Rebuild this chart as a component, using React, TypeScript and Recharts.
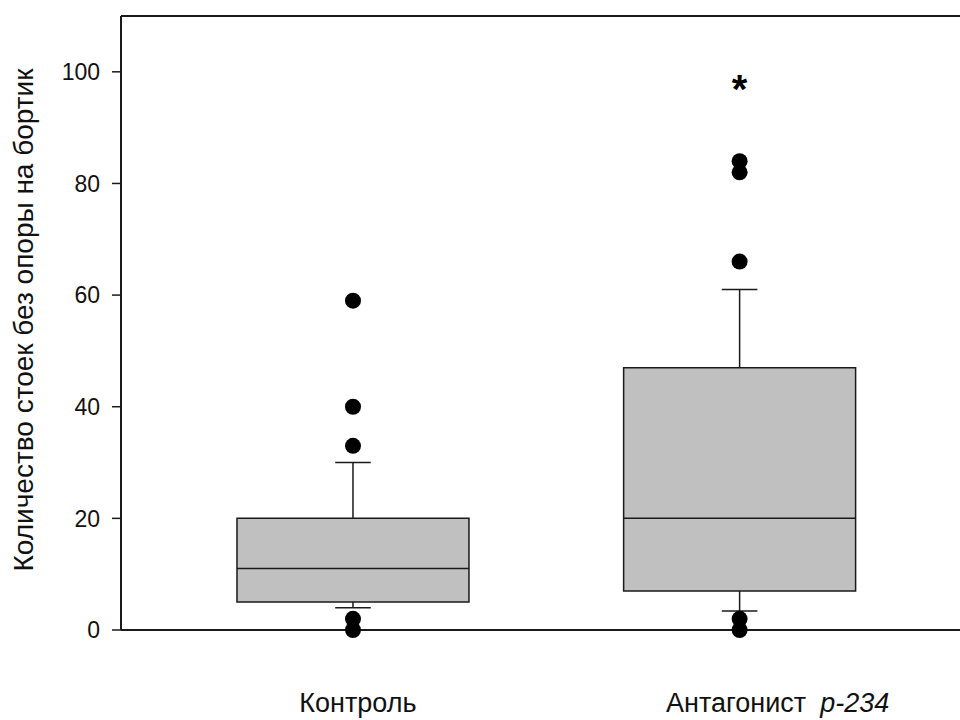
import {
  ComposedChart,
  Scatter,
  XAxis,
  YAxis,
  ReferenceArea,
  ReferenceLine,
  Label,
} from "recharts";

// groups along the x axis
const groupNames = ["Контроль", "Антагонист"];
const groupSuffix = ["", "p-234"];
const groupPos = [1, 2];

// box statistics
const q1 = [5, 7];
const median = [11, 20];
const q3 = [20, 47];
const whiskerLow = [4, 3.4];
const whiskerHigh = [30, 61];

// points outside the whiskers
const outliersControl = [59, 40, 33, 2, 0];
const outliersAntagonist = [84, 82, 66, 2, 0];

// significance mark above group 2
const starValue = [98.4];

const yTicks = [0, 20, 40, 60, 80, 100];

const BOX_HALF = 0.3;
const CAP_HALF = 0.046;
const INK = "#1a1a1a";

const outlierData = [
  ...outliersControl.map((v) => ({ x: groupPos[0], y: v })),
  ...outliersAntagonist.map((v) => ({ x: groupPos[1], y: v })),
];
const starData = starValue.map((v) => ({ x: groupPos[1], y: v }));

const XTick = (props: any) => {
  const { x, y, payload } = props;
  const i = groupPos.indexOf(payload.value);
  if (i < 0) return null;
  const shift = i === 0 ? 5 : 38;
  return (
    <text x={x + shift} y={y} dy={80} textAnchor="middle" fontSize={27} fill="#111">
      {groupNames[i]}
      {groupSuffix[i] ? (
        <tspan dx={14} fontStyle="italic">
          {groupSuffix[i]}
        </tspan>
      ) : null}
    </text>
  );
};

const YTitle = () => (
  <text
    x={33}
    y={320}
    textAnchor="middle"
    fontSize={28}
    fill="#111"
    transform="rotate(-90, 33, 320)"
  >
    Количество стоек без опоры на бортик
  </text>
);

const Star = (props: any) => {
  const { cx, cy } = props;
  return (
    <text x={cx} y={cy} dy={22} textAnchor="middle" fontSize={40} fontWeight="bold" fill="#000">
      *
    </text>
  );
};

export default function App() {
  return (
    <div
      style={{
        position: "absolute",
        left: 0,
        top: 0,
        width: 960,
        height: 720,
        background: "#fff",
        fontFamily: "'Liberation Sans', Arial, sans-serif",
      }}
    >
      <ComposedChart width={960} height={720} margin={{ top: 16, right: 0, bottom: 0, left: 0 }}>
        <XAxis
          type="number"
          dataKey="x"
          domain={[0.4, 2.57]}
          ticks={groupPos}
          allowDataOverflow
          height={90}
          tickLine={false}
          tickSize={0}
          axisLine={{ stroke: INK, strokeWidth: 2 }}
          tick={<XTick />}
        />
        <YAxis
          type="number"
          dataKey="y"
          domain={[0, 110]}
          ticks={yTicks}
          width={121}
          tickSize={9}
          tickMargin={12}
          axisLine={{ stroke: INK, strokeWidth: 2 }}
          tickLine={{ stroke: INK, strokeWidth: 1.5 }}
          tick={{ fontSize: 23, fill: "#111" }}
        >
          <Label content={<YTitle />} />
        </YAxis>

        <ReferenceLine y={110} stroke={INK} strokeWidth={2} />

        {groupPos.map((p, i) => (
          <ReferenceLine
            key={`wl${i}`}
            segment={[
              { x: p, y: whiskerLow[i] },
              { x: p, y: q1[i] },
            ]}
            stroke={INK}
            strokeWidth={1.5}
          />
        ))}
        {groupPos.map((p, i) => (
          <ReferenceLine
            key={`wh${i}`}
            segment={[
              { x: p, y: q3[i] },
              { x: p, y: whiskerHigh[i] },
            ]}
            stroke={INK}
            strokeWidth={1.5}
          />
        ))}
        {groupPos.map((p, i) => (
          <ReferenceLine
            key={`cl${i}`}
            segment={[
              { x: p - CAP_HALF, y: whiskerLow[i] },
              { x: p + CAP_HALF, y: whiskerLow[i] },
            ]}
            stroke={INK}
            strokeWidth={1.5}
          />
        ))}
        {groupPos.map((p, i) => (
          <ReferenceLine
            key={`ch${i}`}
            segment={[
              { x: p - CAP_HALF, y: whiskerHigh[i] },
              { x: p + CAP_HALF, y: whiskerHigh[i] },
            ]}
            stroke={INK}
            strokeWidth={1.5}
          />
        ))}
        {groupPos.map((p, i) => (
          <ReferenceArea
            key={`box${i}`}
            x1={p - BOX_HALF}
            x2={p + BOX_HALF}
            y1={q1[i]}
            y2={q3[i]}
            fill="#c0c0c0"
            fillOpacity={1}
            stroke={INK}
            strokeWidth={1.5}
          />
        ))}
        {groupPos.map((p, i) => (
          <ReferenceLine
            key={`med${i}`}
            segment={[
              { x: p - BOX_HALF, y: median[i] },
              { x: p + BOX_HALF, y: median[i] },
            ]}
            stroke={INK}
            strokeWidth={1.5}
          />
        ))}

        <Scatter
          data={outlierData}
          fill="#000"
          isAnimationActive={false}
          shape={(props: any) => <circle cx={props.cx} cy={props.cy} r={8} fill="#000" />}
        />
        <Scatter data={starData} isAnimationActive={false} shape={<Star />} />
      </ComposedChart>
    </div>
  );
}
